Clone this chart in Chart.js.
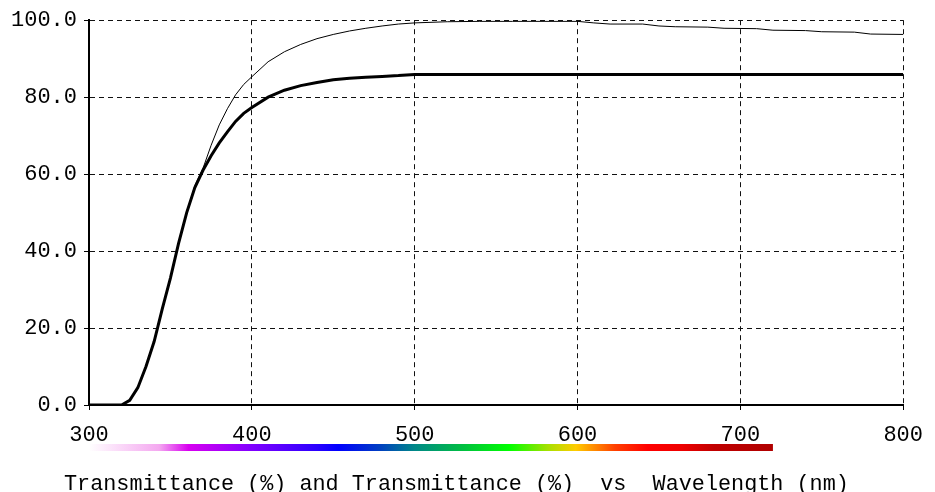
<!DOCTYPE html>
<html>
<head>
<meta charset="utf-8">
<script src="https://cdn.jsdelivr.net/npm/chart.js@4.4.1/dist/chart.umd.min.js"></script>
<style>
  html, body { margin: 0; padding: 0; background: #ffffff; }
  #wrap { width: 935px; height: 492px; position: relative; }
</style>
</head>
<body>
<div id="wrap"><canvas id="c" width="935" height="492"></canvas></div>
<script>
// ---- data ----
const wavelengths = [300, 305, 310, 315, 320, 325, 330, 335, 340, 345, 350, 355, 360, 365, 370, 375, 380, 385, 390, 395, 400,
  410, 420, 430, 440, 450, 460, 470, 480, 490, 500, 520, 540, 560, 580, 600, 610, 620, 640, 650, 660, 680, 690, 710, 720, 740, 750, 770, 780, 800];

const transmittanceThin = [0, 0, 0, 0, 0, 1.2, 4.5, 10, 16.5, 25, 33, 42, 50, 57, 61.5, 67.5, 72.8, 77, 80.6, 83.3, 85.3,
  89.2, 91.8, 93.7, 95.2, 96.3, 97.2, 97.9, 98.5, 99.0, 99.3, 99.6, 99.7, 99.7, 99.7, 99.7, 99.3, 99.0, 99.0, 98.5, 98.3, 98.2, 97.9, 97.8, 97.4, 97.3, 97.0, 96.9, 96.4, 96.3];

const transmittanceThick = [0, 0, 0, 0, 0, 1.2, 4.5, 10, 16.5, 25, 33, 42, 50, 56.5, 61, 64.8, 68.1, 71, 73.7, 75.8, 77.3,
  80.0, 81.8, 83.0, 83.8, 84.5, 84.9, 85.2, 85.4, 85.6, 85.9, 85.9, 85.9, 85.9, 85.9, 85.9, 85.9, 85.9, 85.9, 85.9, 85.9, 85.9, 85.9, 85.9, 85.9, 85.9, 85.9, 85.9, 85.9, 85.9];

const xTicks = [300, 400, 500, 600, 700, 800];
const yTicks = [0, 20, 40, 60, 80, 100];
const axisTitle = 'Transmittance (%) and Transmittance (%)  vs  Wavelength (nm)';

// spectrum colour bar stops (wavelength, colour)
const spectrumNm = [300, 343, 361, 400, 440, 453, 479, 500, 530, 558, 582, 599, 623, 643, 664, 684, 720];
const spectrumColors = ['#ffffff', '#f4a8f0', '#d800f0', '#8000ff', '#2a00ff', '#0000ff', '#0040c0', '#008888', '#00c040',
  '#00ff00', '#a8e000', '#ffcc00', '#ff4000', '#ff0000', '#ee0000', '#c00000', '#b00000'];

const monoFont = '"Liberation Mono", "Courier New", "DejaVu Sans Mono", monospace';

const spectrumPlugin = {
  id: 'spectrum',
  afterDraw(chart) {
    const ctx = chart.ctx;
    const xs = chart.scales.x;
    const x0 = xs.getPixelForValue(spectrumNm[0]);
    const x1 = xs.getPixelForValue(spectrumNm[spectrumNm.length - 1]);
    const grad = ctx.createLinearGradient(x0, 0, x1, 0);
    for (let i = 0; i < spectrumNm.length; i++) {
      grad.addColorStop((xs.getPixelForValue(spectrumNm[i]) - x0) / (x1 - x0), spectrumColors[i]);
    }
    ctx.save();
    ctx.fillStyle = grad;
    ctx.fillRect(x0, 444, x1 - x0, 7);
    ctx.fillStyle = '#000';
    ctx.font = '21.8px ' + monoFont;
    ctx.textBaseline = 'middle';
    ctx.textAlign = 'left';
    ctx.fillText(axisTitle, 64, 484);
    ctx.restore();
  }
};

const bgPlugin = {
  id: 'bg',
  beforeDraw(chart) {
    const ctx = chart.ctx;
    ctx.save();
    ctx.fillStyle = '#ffffff';
    ctx.fillRect(0, 0, chart.width, chart.height);
    ctx.restore();
  }
};

const toPoints = (ys) => wavelengths.map((w, i) => ({ x: w, y: ys[i] }));
const gridColorX = (c) => (c.tick && c.tick.value === 300 ? 'rgba(0,0,0,0)' : '#111');
const gridColorY = (c) => (c.tick && c.tick.value === 0 ? 'rgba(0,0,0,0)' : '#111');

new Chart(document.getElementById('c'), {
  type: 'line',
  data: {
    datasets: [
      { label: 'Transmittance (%)', data: toPoints(transmittanceThin), borderColor: '#000', borderWidth: 1, pointRadius: 0, tension: 0, fill: false },
      { label: 'Transmittance (%)', data: toPoints(transmittanceThick), borderColor: '#000', borderWidth: 3, pointRadius: 0, tension: 0, fill: false }
    ]
  },
  options: {
    responsive: false,
    devicePixelRatio: 1,
    animation: false,
    layout: { padding: { left: 0, right: 24, top: 15, bottom: 0 } },
    plugins: { legend: { display: false }, title: { display: false }, tooltip: { enabled: false } },
    scales: {
      x: {
        type: 'linear', min: 300, max: 800,
        afterBuildTicks: (s) => { s.ticks = xTicks.map(v => ({ value: v })); },
        afterFit: (s) => { s.height = 87; },
        ticks: { color: '#000', font: { family: monoFont, size: 22 }, padding: 12, maxRotation: 0, callback: (v) => String(v) },
        grid: { color: gridColorX, lineWidth: 1, tickLength: 5, tickBorderDash: [], tickColor: '#000' },
        border: { display: true, color: '#000', width: 2, dash: [5, 4] }
      },
      y: {
        min: 0, max: 100,
        afterBuildTicks: (s) => { s.ticks = yTicks.map(v => ({ value: v })); },
        afterFit: (s) => { s.width = 89; },
        ticks: { color: '#000', font: { family: monoFont, size: 22 }, padding: 7, callback: (v) => Number(v).toFixed(1) },
        grid: { color: gridColorY, lineWidth: 1, tickLength: 5, tickBorderDash: [], tickColor: '#000' },
        border: { display: true, color: '#000', width: 2, dash: [5, 4] }
      }
    }
  },
  plugins: [bgPlugin, spectrumPlugin]
});
</script>
</body>
</html>
